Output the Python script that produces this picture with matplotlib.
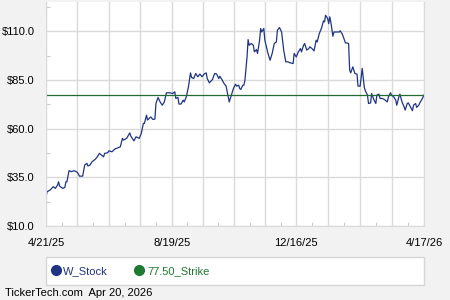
import matplotlib
matplotlib.use("Agg")
import matplotlib.pyplot as plt
import matplotlib.dates as mdates
from matplotlib.lines import Line2D
from matplotlib.patches import Rectangle
import numpy as np

plt.rcParams['font.family'] = ['Liberation Sans', 'DejaVu Sans']

start_date = np.datetime64('2025-04-21')

# days since 4/21/25
days = [0, 1, 4, 7, 9, 11, 12, 13, 16, 18, 19, 20, 22, 24, 27, 30, 32, 35, 37, 39,
        40, 42, 44, 47, 49, 51, 53, 55, 56, 59, 60, 63,
        66, 69, 71, 73, 74, 77, 80, 81, 84, 86, 89, 91, 93, 94, 96, 97, 100, 102,
        104, 105, 107, 109, 111, 113, 115, 118, 121,
        123, 124, 126, 127, 129, 131, 132, 134, 136, 138, 139, 141, 143, 145, 147,
        149, 151, 153, 154, 156, 159, 161, 163, 165, 166, 168, 170, 172, 174, 175,
        177, 179, 181, 182, 184, 185,
        186, 188, 189, 190, 192, 193, 194, 196, 198, 199, 201, 202, 204, 205, 206,
        208, 209, 212, 214, 216, 218, 220, 221, 223, 225, 227, 229, 231, 233, 236,
        237, 239, 241, 243,
        244, 246, 247, 249, 251, 252, 254, 256, 258, 259, 261, 263, 265, 266, 267,
        269, 270, 271, 272, 274, 275, 278, 280, 281, 283, 286, 287, 289, 290, 291,
        293, 295, 297, 298, 300, 301, 302, 304, 305,
        307, 308, 310, 311, 313, 315, 316, 318, 319, 321, 323, 324, 326, 327, 329,
        330, 332, 334, 335, 337, 338, 340, 342, 343, 345, 346, 348, 350, 351, 353,
        354, 356, 357, 359, 361]

stock = [24.7, 27.6, 28.5, 30.2, 29.3, 31.0, 32.7, 30.5, 29.3, 29.8, 32.7, 32.7, 38.4,
         37.9, 38.4, 37.5, 35.6, 35.6, 41.3, 42.2, 40.8, 41.3, 43.0, 44.2, 45.5, 47.3,
         46.4, 45.5, 47.3, 47.6, 48.6, 48.1,
         49.6, 50.2, 50.7, 55.0, 54.1, 55.0, 57.8, 56.1, 53.7, 55.8, 55.0, 57.5, 62.7,
         62.7, 66.9, 64.4, 66.0, 64.7, 64.9, 72.9, 76.0, 73.7, 72.0, 73.7, 78.4, 78.4, 78.0,
         78.9, 75.5, 76.0, 72.6, 72.6, 74.6, 73.7, 76.3, 81.4, 88.6, 86.3, 85.7, 88.3,
         86.6, 88.0, 86.6, 88.0, 88.6, 85.7, 83.5, 85.2, 88.3, 88.0, 85.7, 86.9, 85.2,
         83.2, 81.8, 76.3, 73.7, 77.2, 80.6, 82.8, 81.8, 82.3, 80.6,
         80.1, 82.3, 82.3, 84.9, 96.8, 105.7, 102.8, 103.7, 102.8, 99.4, 100.6, 98.6,
         105.4, 111.4, 109.6, 111.4, 105.4, 98.6, 95.1, 98.6, 103.7, 104.5, 110.5, 111.9,
         109.6, 100.3, 94.3, 94.3, 93.8, 93.4, 98.6, 96.8, 99.4, 101.1,
         99.4, 102.8, 103.7, 100.3, 101.1, 102.0, 101.1, 99.9, 105.4, 104.5, 108.8, 111.4,
         115.3, 114.8, 118.2, 116.5, 113.9, 117.4, 114.8, 107.4, 109.6, 109.6, 109.6,
         110.2, 108.5, 104.0, 104.0, 103.7, 90.0, 88.6, 91.7, 88.3, 88.0, 81.8, 81.8,
         86.6, 90.9, 81.1, 79.4,
         77.2, 72.9, 73.2, 78.0, 75.0, 72.9, 77.2, 77.7, 75.5, 75.5, 75.0, 74.6, 73.7,
         76.3, 78.4, 77.2, 76.3, 74.6, 72.0, 76.3, 77.7, 73.7, 71.2, 69.5, 72.9, 73.2,
         71.2, 69.2, 72.0, 72.9, 70.9, 72.0, 73.2, 75.0, 77.2]

strike = 77.50
label_dates = ['2025-04-21', '2025-08-19', '2025-12-16', '2026-04-17']
label_text = ['4/21/25', '8/19/25', '12/16/25', '4/17/26']
y_ticks = [10, 35, 60, 85, 110]

navy = '#1f3584'
green = '#1e7a30'

dates = start_date + np.array(days).astype('timedelta64[D]')
x = mdates.date2num(dates.astype('datetime64[s]').astype(object))

fig = plt.figure(figsize=(4.5, 3), dpi=100, facecolor='#f2f2f2')
ax = fig.add_axes([46 / 450, 1 - 226 / 300, 378 / 450, 224 / 300])
ax.set_facecolor('white')

ax.plot(x, stock, color=navy, lw=0.9)
ax.axhline(strike, color='#236a33', lw=0.9)

lab_num = [mdates.date2num(np.datetime64(d).astype(object)) for d in label_dates]
grid_pos = []
for a, b in zip(lab_num[:-1], lab_num[1:]):
    grid_pos.extend(np.linspace(a, b, 5)[:-1])
grid_pos.append(lab_num[-1])
minor_pos = [(a + b) / 2 for a, b in zip(grid_pos[:-1], grid_pos[1:])]

ax.set_xticks(grid_pos)
ax.set_xticklabels([label_text[i // 4] if i % 4 == 0 else '' for i in range(len(grid_pos))])
ax.set_xticks(minor_pos, minor=True)
ax.set_xlim(lab_num[0], lab_num[-1])

ax.set_yticks(y_ticks)
ax.set_yticklabels([f'${v:.1f}' for v in y_ticks])
ax.set_yticks([v + 12.5 for v in y_ticks], minor=True)
ax.set_ylim(10, 125)

ax.grid(True, which='major', color='#dadada', lw=1.0)
ax.set_axisbelow(True)
ax.tick_params(which='major', length=0, labelsize=8, colors='black')
ax.tick_params(axis='y', which='major', pad=8)
ax.tick_params(axis='x', which='major', pad=9)
ax.tick_params(which='minor', direction='in', length=3, color='#cccccc', width=0.8)
for s in ax.spines.values():
    s.set_color('#dadada')
ax.spines['top'].set_visible(False)

# legend box
fig.patches.append(Rectangle((46 / 450, 1 - 285 / 300), 378 / 450, 28 / 300,
                             transform=fig.transFigure, facecolor='white',
                             edgecolor='#d6d6d6', lw=1.0))
handles = [Line2D([], [], ls='', marker='o', ms=7, color=navy),
           Line2D([], [], ls='', marker='o', ms=7, color=green)]
fig.legend(handles, ['W_Stock', '77.50_Strike'], loc='center left',
           bbox_to_anchor=(40 / 450, 1 - 271 / 300), ncol=2, frameon=False,
           fontsize=8, handletextpad=0.2, columnspacing=2.3, handlelength=1.0,
           labelcolor='markerfacecolor')

fig.text(5 / 450, 1 - 293 / 300, 'TickerTech.com  Apr 20, 2026', fontsize=8,
         va='center', ha='left', color='black')

fig.savefig('out.png', dpi=100, facecolor=fig.get_facecolor())
